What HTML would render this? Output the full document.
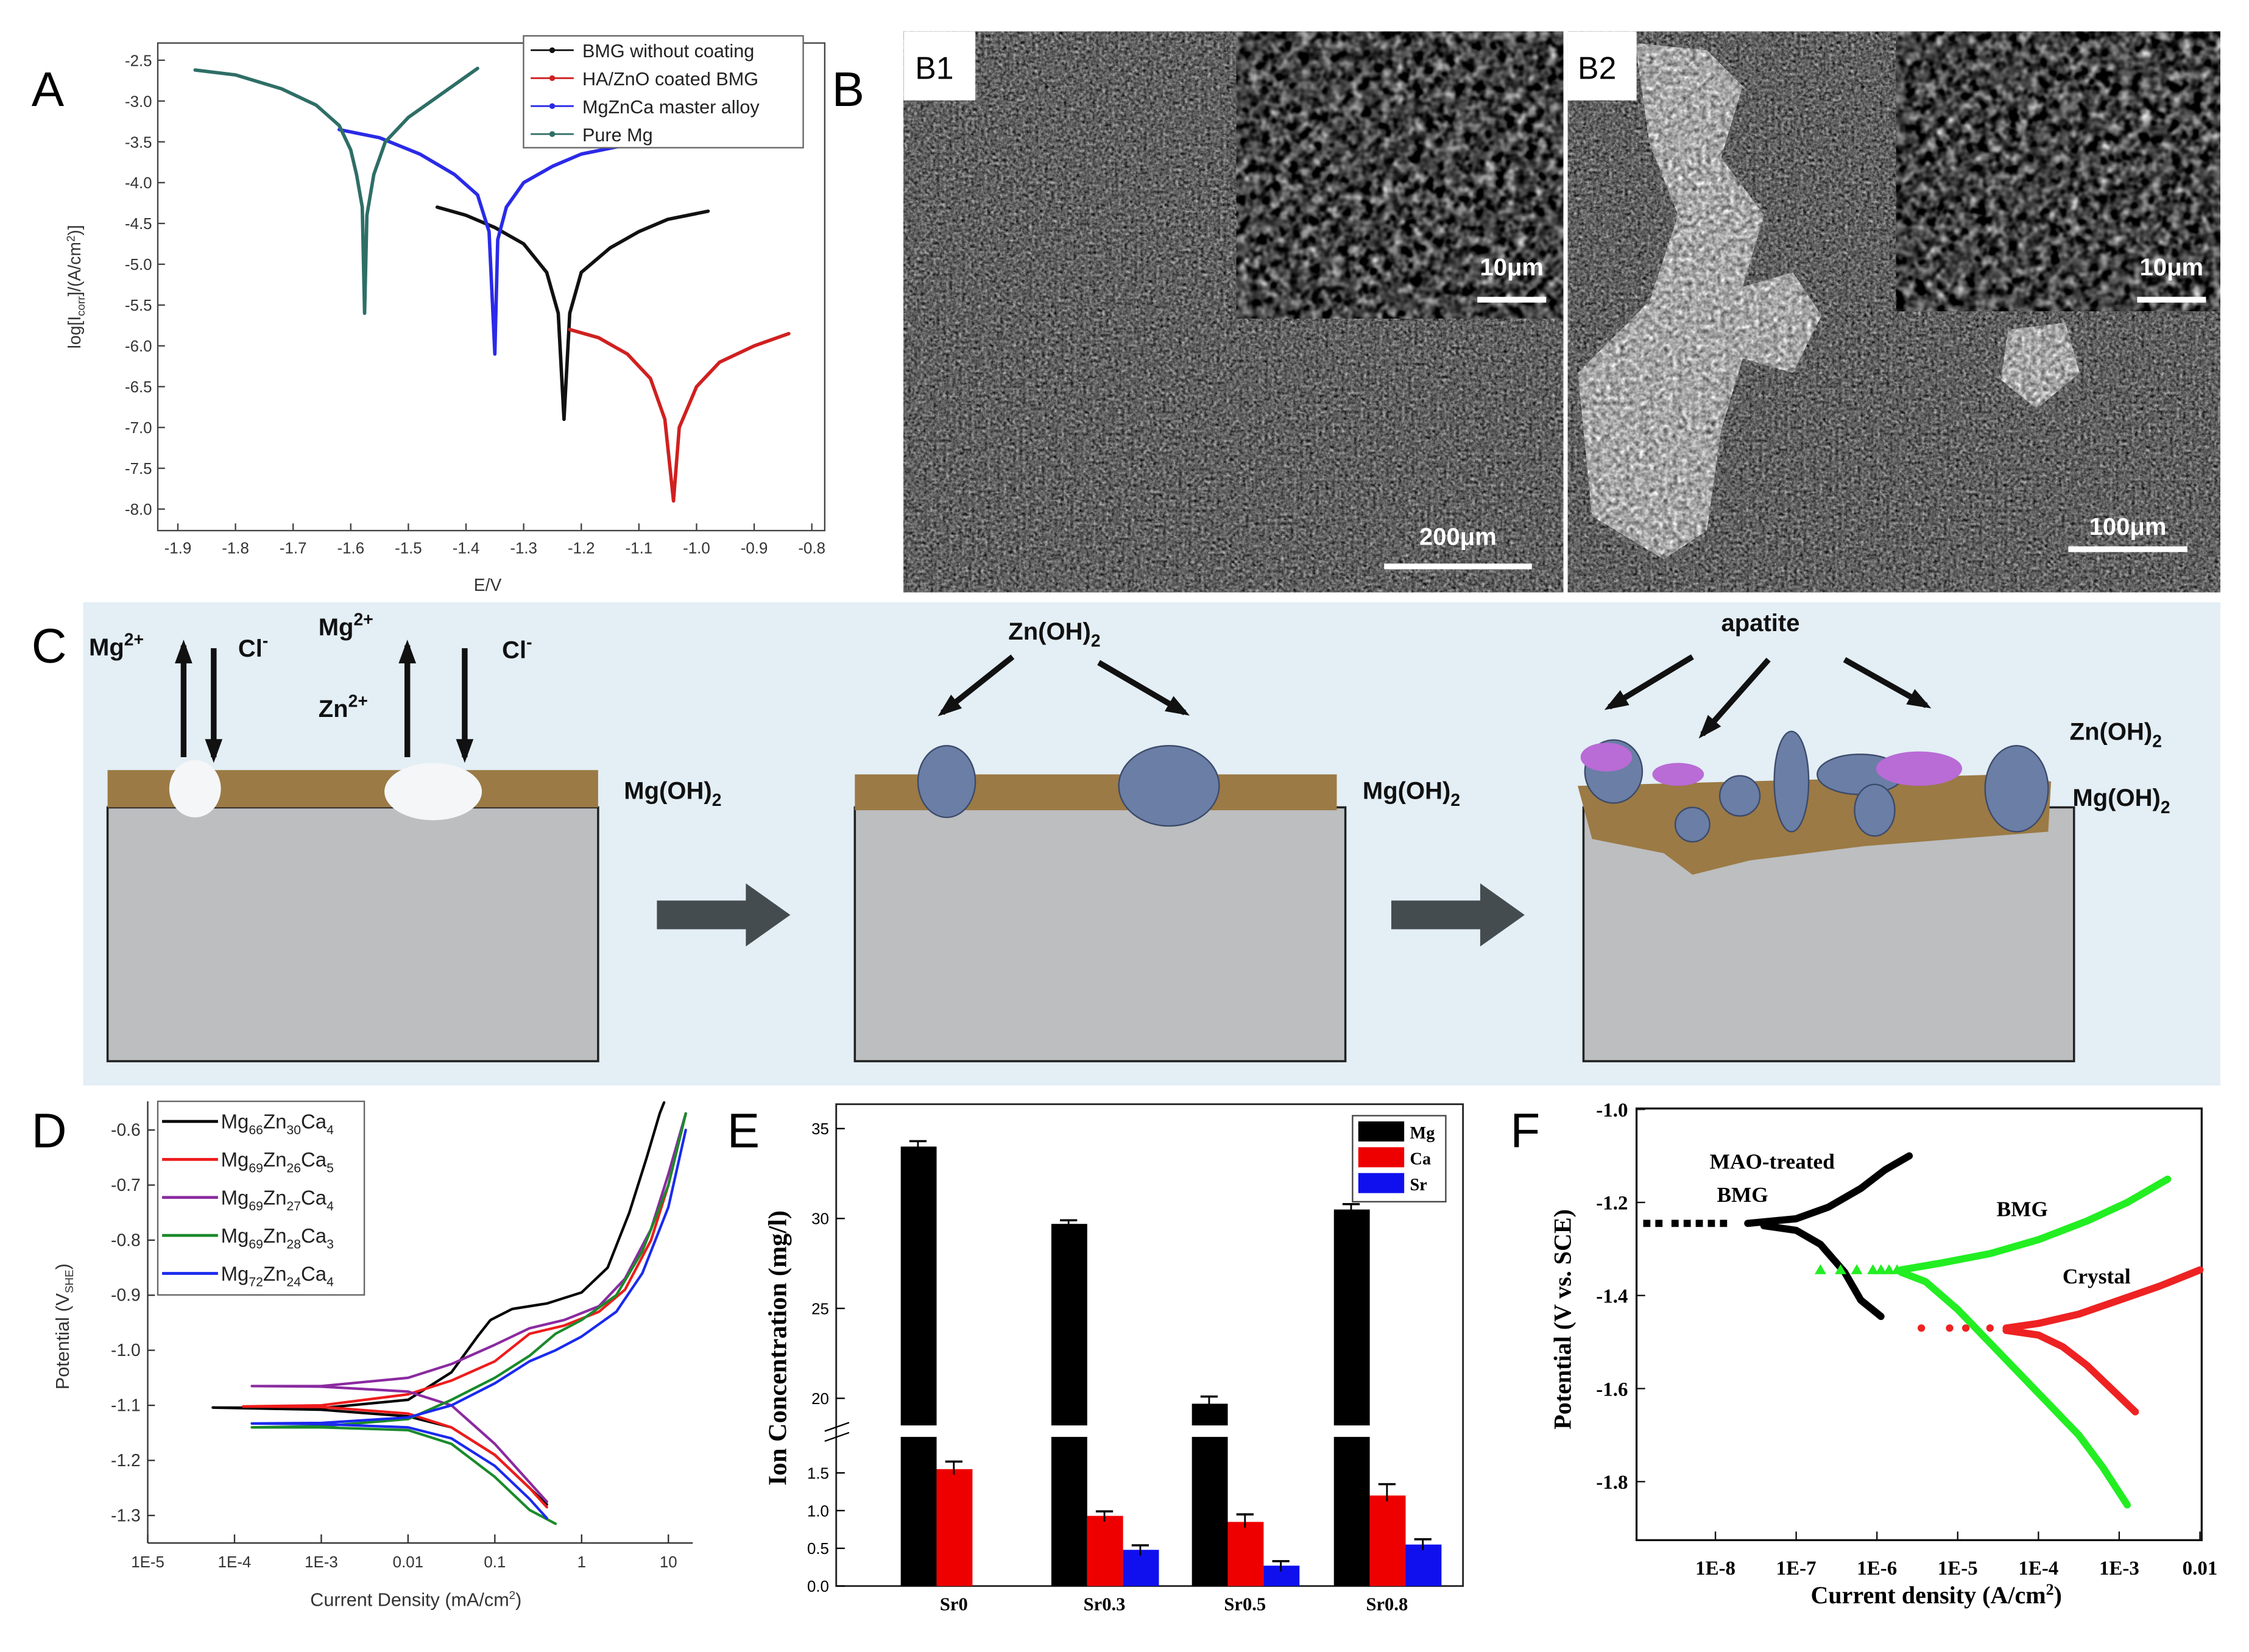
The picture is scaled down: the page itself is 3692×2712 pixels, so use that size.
<!DOCTYPE html>
<html><head><meta charset="utf-8"><style>
html,body{margin:0;padding:0;background:#fff}
svg{display:block}
text{font-family:"Liberation Sans",sans-serif}
.serif{font-family:"Liberation Serif",serif;font-weight:bold}
filter{color-interpolation-filters:sRGB}
</style></head><body>
<svg id="s" width="3692" height="2712" viewBox="0 0 1568 1152" preserveAspectRatio="none" xmlns="http://www.w3.org/2000/svg">
<defs>
<filter id="sem" x="0" y="0" width="100%" height="100%" color-interpolation-filters="sRGB">
<feTurbulence type="fractalNoise" baseFrequency="0.45" numOctaves="3" seed="3"/>
<feColorMatrix type="matrix" values="0.45 0.45 0.45 0 -0.3 0.45 0.45 0.45 0 -0.3 0.45 0.45 0.45 0 -0.3 0 0 0 0 1"/>
</filter>
<filter id="sem2" x="0" y="0" width="100%" height="100%" color-interpolation-filters="sRGB">
<feTurbulence type="fractalNoise" baseFrequency="0.14" numOctaves="2" seed="7"/>
<feColorMatrix type="matrix" values="0.8 0.8 0.8 0 -0.95 0.8 0.8 0.8 0 -0.95 0.8 0.8 0.8 0 -0.95 0 0 0 0 1"/>
</filter>
<filter id="dep" x="0" y="0" width="100%" height="100%" color-interpolation-filters="sRGB">
<feTurbulence type="fractalNoise" baseFrequency="0.3" numOctaves="2" seed="11"/>
<feColorMatrix type="matrix" values="0.5 0.5 0.5 0 -0.1 0.5 0.5 0.5 0 -0.1 0.5 0.5 0.5 0 -0.1 0 0 0 0 1"/>
<feComposite in2="SourceGraphic" operator="in"/>
</filter>
</defs>
<g id="A"></g>
<g id="B"></g>
<g id="C"></g>
<g id="D"></g>
<g id="E"></g>
<g id="F"></g>
</svg>
<script>
// ---------- data ----------
const aXTicks=[-1.9,-1.8,-1.7,-1.6,-1.5,-1.4,-1.3,-1.2,-1.1,-1.0,-0.9,-0.8];
const aYTicks=[-2.5,-3.0,-3.5,-4.0,-4.5,-5.0,-5.5,-6.0,-6.5,-7.0,-7.5,-8.0];
const aNames=["BMG without coating","HA/ZnO coated BMG","MgZnCa master alloy","Pure Mg"];
const aBMG=[[-1.45,-4.3],[-1.4,-4.4],[-1.35,-4.55],[-1.3,-4.75],[-1.26,-5.1],[-1.24,-5.6],[-1.23,-6.9],[-1.22,-5.6],[-1.2,-5.1],[-1.15,-4.8],[-1.1,-4.6],[-1.05,-4.45],[-0.98,-4.35]];
const aHA=[[-1.22,-5.8],[-1.17,-5.9],[-1.12,-6.1],[-1.08,-6.4],[-1.055,-6.9],[-1.04,-7.9],[-1.03,-7.0],[-1.0,-6.5],[-0.96,-6.2],[-0.9,-6.0],[-0.84,-5.85]];
const aMZC=[[-1.62,-3.35],[-1.55,-3.45],[-1.48,-3.65],[-1.42,-3.9],[-1.38,-4.15],[-1.36,-4.6],[-1.35,-6.1],[-1.345,-4.7],[-1.33,-4.3],[-1.3,-4.0],[-1.25,-3.8],[-1.2,-3.65],[-1.13,-3.55]];
const aPure=[[-1.87,-2.62],[-1.8,-2.68],[-1.72,-2.85],[-1.66,-3.05],[-1.62,-3.3],[-1.6,-3.6],[-1.59,-3.9],[-1.58,-4.3],[-1.576,-5.6],[-1.572,-4.4],[-1.56,-3.9],[-1.54,-3.5],[-1.5,-3.2],[-1.45,-2.95],[-1.4,-2.7],[-1.38,-2.6]];

const dXTicks=["1E-5","1E-4","1E-3","0.01","0.1","1","10"];
const dYTicks=[-0.6,-0.7,-0.8,-0.9,-1.0,-1.1,-1.2,-1.3];
const dNames=[["66","30","4"],["69","26","5"],["69","27","4"],["69","28","3"],["72","24","4"]];
const dBlack=[[-0.4,-1.28],[-0.6,-1.25],[-1,-1.19],[-1.5,-1.14],[-2,-1.12],[-3,-1.108],[-4.25,-1.104],[-3,-1.105],[-2,-1.09],[-1.5,-1.04],[-1.2,-0.975],[-1.05,-0.945],[-0.8,-0.925],[-0.4,-0.915],[0,-0.895],[0.3,-0.85],[0.55,-0.75],[0.75,-0.65],[0.9,-0.57],[0.95,-0.55]];
const dRed=[[-0.4,-1.285],[-0.6,-1.25],[-1,-1.19],[-1.5,-1.14],[-2,-1.115],[-3,-1.103],[-3.9,-1.102],[-3,-1.1],[-2,-1.08],[-1.5,-1.055],[-1,-1.02],[-0.6,-0.97],[-0.2,-0.955],[0.2,-0.93],[0.5,-0.89],[0.8,-0.8],[1.0,-0.7],[1.2,-0.57]];
const dPurple=[[-0.4,-1.275],[-0.6,-1.24],[-1,-1.17],[-1.5,-1.1],[-2,-1.075],[-3,-1.066],[-3.8,-1.065],[-3,-1.065],[-2,-1.05],[-1.5,-1.025],[-1,-0.99],[-0.6,-0.96],[-0.2,-0.945],[0.2,-0.92],[0.5,-0.87],[0.8,-0.78],[1.0,-0.68],[1.2,-0.57]];
const dGreen=[[-0.3,-1.315],[-0.6,-1.29],[-1,-1.23],[-1.5,-1.17],[-2,-1.145],[-3,-1.14],[-3.8,-1.14],[-3,-1.138],[-2,-1.125],[-1.5,-1.09],[-1,-1.05],[-0.6,-1.01],[-0.3,-0.97],[0,-0.945],[0.4,-0.9],[0.7,-0.82],[1.0,-0.7],[1.2,-0.57]];
const dBlue=[[-0.4,-1.305],[-0.6,-1.27],[-1,-1.21],[-1.5,-1.16],[-2,-1.14],[-3,-1.134],[-3.8,-1.133],[-3,-1.132],[-2,-1.122],[-1.5,-1.1],[-1,-1.06],[-0.6,-1.02],[-0.3,-1.0],[0,-0.975],[0.4,-0.93],[0.7,-0.86],[1.0,-0.74],[1.2,-0.6]];

const eCats=["Sr0","Sr0.3","Sr0.5","Sr0.8"];
const eMg=[34.0,29.7,19.7,30.5];
const eCa=[1.55,0.93,0.85,1.2];
const eSr=[0,0.48,0.27,0.55];
const eMgErr=[0.3,0.2,0.4,0.3];
const eCaErr=[0.1,0.06,0.1,0.15];
const eSrErr=[0,0.06,0.06,0.07];
const eUpperTicks=[20,25,30,35];
const eLowerTicks=[0.0,0.5,1.0,1.5];

const fXTicks=["1E-8","1E-7","1E-6","1E-5","1E-4","1E-3","0.01"];
const fYTicks=[-1.0,-1.2,-1.4,-1.6,-1.8];
const fMAOa=[[-7.6,-1.245],[-7.0,-1.235],[-6.6,-1.21],[-6.2,-1.17],[-5.9,-1.13],[-5.6,-1.1]];
const fMAOc=[[-7.4,-1.25],[-7.0,-1.26],[-6.7,-1.29],[-6.4,-1.35],[-6.2,-1.41],[-5.95,-1.445]];
const fMAOdots=[-8.85,-8.7,-8.5,-8.35,-8.2,-8.05,-7.9];
const fBMGa=[[-5.7,-1.345],[-5.2,-1.33],[-4.6,-1.31],[-4,-1.28],[-3.4,-1.24],[-2.9,-1.2],[-2.4,-1.15]];
const fBMGc=[[-5.7,-1.35],[-5.4,-1.37],[-5,-1.43],[-4.5,-1.52],[-4,-1.61],[-3.5,-1.7],[-3.2,-1.77],[-2.9,-1.85]];
const fBMGtri=[-6.7,-6.45,-6.25,-6.05,-5.95,-5.85,-5.75];
const fCRa=[[-4.4,-1.47],[-4,-1.46],[-3.5,-1.44],[-3,-1.41],[-2.5,-1.38],[-2,-1.345]];
const fCRc=[[-4.4,-1.475],[-4,-1.485],[-3.7,-1.51],[-3.4,-1.55],[-3.1,-1.6],[-2.8,-1.65]];
const fCRdots=[-5.45,-5.1,-4.9,-4.6];

// ---------- helpers ----------
const NS="http://www.w3.org/2000/svg";
function mk(p,tag,at,txt){const e=document.createElementNS(NS,tag);for(const k in at)e.setAttribute(k,at[k]);if(txt!==undefined)e.textContent=txt;p.appendChild(e);return e;}
function poly(p,pts,fx,fy,col,w,name){const e=mk(p,'polyline',{points:pts.map(q=>fx(q[0]).toFixed(2)+','+fy(q[1]).toFixed(2)).join(' '),fill:'none',stroke:col,'stroke-width':w,'stroke-linejoin':'round','stroke-linecap':'round'});


return e;}

// ---------- Panel A ----------
(function(){
const g=document.getElementById('A');
const X=v=>124+(v+1.9)/1.1*442, Y=v=>42+(-2.5-v)/5.5*313;
mk(g,'text',{x:22,y:74,'font-size':34},'A');
const b=mk(g,'rect',{x:110,y:30,width:465,height:340,fill:'none',stroke:'#444','stroke-width':1});

aXTicks.forEach(v=>{mk(g,'line',{x1:X(v),x2:X(v),y1:370,y2:365,stroke:'#444'});const t=mk(g,'text',{x:X(v),y:386,'font-size':11,'text-anchor':'middle',fill:'#333'},v.toFixed(1));
});
aYTicks.forEach(v=>{mk(g,'line',{x1:110,x2:115,y1:Y(v),y2:Y(v),stroke:'#444'});const t=mk(g,'text',{x:106,y:Y(v)+4,'font-size':11,'text-anchor':'end',fill:'#333'},v.toFixed(1));
});
mk(g,'text',{x:340,y:412,'font-size':12,'text-anchor':'middle',fill:'#333'},'E/V');
const yt=mk(g,'text',{transform:'translate(56,200) rotate(-90)','font-size':12,'text-anchor':'middle',fill:'#333'},'log[I');
mk(yt,'tspan',{'font-size':8,dy:3},'corr');mk(yt,'tspan',{dy:-3},']/(A/cm');mk(yt,'tspan',{'font-size':8,dy:-4},'2');mk(yt,'tspan',{dy:4},')]');
const cols=['#111','#d02020','#2a2ae8','#2e6e66'];
[aBMG,aHA,aMZC,aPure].forEach((d,i)=>{poly(g,d,X,Y,cols[i],2.4,'series-'+['bmg','ha-zno','mgznca','pure-mg'][i]);});
const lg=mk(g,'g',{});
mk(lg,'rect',{x:365,y:25,width:195,height:78,fill:'#fff',stroke:'#666'});
aNames.forEach((n,i)=>{const y=35+i*19.5;mk(lg,'line',{x1:370,x2:400,y1:y,y2:y,stroke:cols[i],'stroke-width':1.2});mk(lg,'circle',{cx:385,cy:y,r:2,fill:cols[i]});
const t=mk(lg,'text',{x:406,y:y+5,'font-size':13,fill:'#222'},n);});
})();

// ---------- Panel B ----------
(function(){
const g=document.getElementById('B');
mk(g,'text',{x:580,y:74,'font-size':34},'B');
function sem(x,y,w,h,f,name){const r=mk(g,'rect',{x,y,width:w,height:h,fill:'#777',filter:'url(#'+f+')'});}
sem(630,22,460,391,'sem','sem-image-b1');
sem(862,22,228,200,'sem2','sem-inset-b1');
sem(1093,22,455,391,'sem','sem-image-b2');
const dp=mk(g,'path',{d:'M1140 30 L1190 35 L1215 60 L1200 110 L1230 150 L1215 200 L1250 190 L1270 220 L1250 260 L1215 250 L1200 300 L1190 370 L1160 390 L1110 360 L1100 260 L1150 210 L1170 150 L1150 100 Z',fill:'#fff',filter:'url(#dep)'});

sem(1322,22,226,195,'sem2','sem-inset-b2');
mk(g,'path',{d:'M1400 230 L1440 225 L1450 260 L1420 285 L1395 265 Z',fill:'#fff',filter:'url(#dep)'});
mk(g,'line',{x1:1091.5,x2:1091.5,y1:22,y2:413,stroke:'#fff','stroke-width':3});
mk(g,'rect',{x:630,y:22,width:50,height:48,fill:'#fff'});
mk(g,'text',{x:638,y:55,'font-size':22},'B1');
mk(g,'rect',{x:1093,y:22,width:48,height:48,fill:'#fff'});
mk(g,'text',{x:1100,y:55,'font-size':22},'B2');
[[1030,192,1078,207,'10μm'],[1490,192,1538,207,'10μm'],[965,380,1068,393,'200μm'],[1442,373,1525,381,'100μm']].forEach(s=>{
const t=mk(g,'text',{x:(s[0]+s[2])/2,y:s[1],'font-size':17,'font-weight':'bold',fill:'#fff','text-anchor':'middle'},s[4]);
mk(g,'rect',{x:s[0],y:s[3],width:s[2]-s[0],height:4,fill:'#fff'});});
})();

// ---------- Panel C ----------
(function(){
const g=document.getElementById('C');
const bg=mk(g,'rect',{x:58,y:420,width:1490,height:337,fill:'#e3eef5'});
mk(g,'text',{x:22,y:462,'font-size':34},'C');
function block(x,name){const r=mk(g,'rect',{x,y:563,width:342,height:177,fill:'#bcbec0',stroke:'#222','stroke-width':1.5});}
block(75,'substrate-1');block(596,'substrate-2');block(1104,'substrate-3');
mk(g,'rect',{x:75,y:537,width:342,height:26,fill:'#9b7a45'});
mk(g,'rect',{x:596,y:540,width:336,height:25,fill:'#9b7a45'});
mk(g,'path',{d:'M1100 548 L1400 540 L1430 545 L1428 580 L1300 590 L1220 600 L1180 610 L1160 595 L1110 585 Z',fill:'#9b7a45'});
mk(g,'ellipse',{cx:136,cy:550,rx:18,ry:20,fill:'#f4f6f8'});
mk(g,'ellipse',{cx:302,cy:552,rx:34,ry:20,fill:'#f4f6f8'});
const cr=[[660,545,20,25],[815,548,35,28],[1125,538,20,22],[1213,555,14,14],[1249,545,12,35],[1297,540,30,14],[1307,565,14,18],[1180,575,12,12],[1406,550,22,30]];
cr.forEach(c=>{const e=mk(g,'ellipse',{cx:c[0],cy:c[1],rx:c[2],ry:c[3],fill:'#6a7ea6',stroke:'#3c4a6a','stroke-width':1});});
[[1120,528,18,10],[1170,540,18,8],[1338,536,30,12]].forEach(c=>mk(g,'ellipse',{cx:c[0],cy:c[1],rx:c[2],ry:c[3],fill:'#b96bd6'}));
function arr(x1,y1,x2,y2){mk(g,'line',{x1,y1,x2,y2,stroke:'#111','stroke-width':4});const a=Math.atan2(y2-y1,x2-x1),L=14;
mk(g,'polygon',{points:`${x2+Math.cos(a)*4},${y2+Math.sin(a)*4} ${x2-L*Math.cos(a-0.45)},${y2-L*Math.sin(a-0.45)} ${x2-L*Math.cos(a+0.45)},${y2-L*Math.sin(a+0.45)}`,fill:'#111'});}
arr(128,528,128,450);arr(149,452,149,528);arr(284,528,284,450);arr(324,452,324,528);
arr(706,458,657,497);arr(766,462,826,497);
arr(1180,458,1122,493);arr(1233,460,1187,512);arr(1286,460,1343,492);
[[458,638],[970,638]].forEach(p=>{const a=mk(g,'polygon',{points:`${p[0]},${p[1]-10} ${p[0]+62},${p[1]-10} ${p[0]+62},${p[1]-22} ${p[0]+93},${p[1]} ${p[0]+62},${p[1]+22} ${p[0]+62},${p[1]+10} ${p[0]},${p[1]+10}`,fill:'#454c50'});});
function lab(x,y,t,sub,sup){const e=mk(g,'text',{x,y,'font-size':17,'font-weight':'bold',fill:'#111'},t);if(sub)mk(e,'tspan',{'font-size':12,dy:5},sub);if(sup)mk(e,'tspan',{'font-size':12,dy:-7},sup);}
lab(62,457,'Mg',null,'2+');lab(166,458,'Cl',null,'-');lab(222,443,'Mg',null,'2+');lab(222,500,'Zn',null,'2+');lab(350,459,'Cl',null,'-');
lab(435,557,'Mg(OH)',"2");lab(703,446,'Zn(OH)',"2");lab(950,557,'Mg(OH)',"2");lab(1200,440,'apatite');lab(1443,516,'Zn(OH)',"2");lab(1445,562,'Mg(OH)',"2");
})();

// ---------- Panel D ----------
(function(){
const g=document.getElementById('D');
const X=v=>103+(v+5)*60.5, Y=v=>788+(-0.6-v)/0.1*38.4;
mk(g,'text',{x:22,y:800,'font-size':34},'D');
mk(g,'line',{x1:103,x2:103,y1:768,y2:1076,stroke:'#333'});mk(g,'line',{x1:103,x2:483,y1:1076,y2:1076,stroke:'#333'});
dXTicks.forEach((l,i)=>{const x=X(i-5);mk(g,'line',{x1:x,x2:x,y1:1076,y2:1070,stroke:'#333'});const t=mk(g,'text',{x,y:1093,'font-size':11,'text-anchor':'middle',fill:'#333'},l);});
dYTicks.forEach(v=>{mk(g,'line',{x1:103,x2:108,y1:Y(v),y2:Y(v),stroke:'#333'});const t=mk(g,'text',{x:98,y:Y(v)+4,'font-size':12,'text-anchor':'end',fill:'#333'},v.toFixed(1));});
const xt=mk(g,'text',{x:290,y:1120,'font-size':13,'text-anchor':'middle',fill:'#333'},'Current Density (mA/cm');mk(xt,'tspan',{'font-size':8,dy:-5},'2');mk(xt,'tspan',{dy:5},')');
const yt=mk(g,'text',{transform:'translate(48,925) rotate(-90)','font-size':13,'text-anchor':'middle',fill:'#333'},'Potential (V');mk(yt,'tspan',{'font-size':8,dy:3},'SHE');mk(yt,'tspan',{dy:-3},')');
const cols=['#000','#ee1c1c','#8a2aa0','#1a8a2a','#1a2aee'];
[dBlack,dRed,dPurple,dGreen,dBlue].forEach((d,i)=>poly(g,d,X,Y,cols[i],1.8,'series-d-'+i));
const lg=mk(g,'g',{});
mk(lg,'rect',{x:110,y:768,width:144,height:135,fill:'#fff',stroke:'#666'});
dNames.forEach((n,i)=>{const y=782+i*26.5;mk(lg,'line',{x1:113,x2:152,y1:y,y2:y,stroke:cols[i],'stroke-width':2});
const t=mk(lg,'text',{x:154,y:y+5,'font-size':14,fill:'#222'},'Mg');mk(t,'tspan',{'font-size':9,dy:4},n[0]);mk(t,'tspan',{dy:-4},'Zn');mk(t,'tspan',{'font-size':9,dy:4},n[1]);mk(t,'tspan',{dy:-4},'Ca');mk(t,'tspan',{'font-size':9,dy:4},n[2]);
});
})();

// ---------- Panel E ----------
(function(){
const g=document.getElementById('E');
const YU=v=>787+(35-v)/5*62.7, YL=v=>1106-v/0.5*26.3;
mk(g,'text',{x:507,y:800,'font-size':34},'E');
mk(g,'rect',{x:583,y:770,width:437,height:336,fill:'none',stroke:'#222','stroke-width':1.2});
const cx=[665,770,868,967];
const cols=['#000','#ee0000','#1010ee'];
const vals=[eMg,eCa,eSr], errs=[eMgErr,eCaErr,eSrErr];
eCats.forEach((c,i)=>{
 vals.forEach((arr,k)=>{const v=arr[i];if(v<=0)return;const x=cx[i]-25+k*25;
 const top=k===0?YU(v):YL(v);
 const r=mk(g,'rect',{x:x-12,y:top,width:25,height:1106-top,fill:cols[k]});
 
 
 const e=errs[k][i], ty=k===0?YU(v+e):YL(v+e);
 mk(g,'line',{x1:x,x2:x,y1:ty,y2:top+4,stroke:'#000','stroke-width':1.2});mk(g,'line',{x1:x-6,x2:x+6,y1:ty,y2:ty,stroke:'#000','stroke-width':1.5});
 });
 const t=mk(g,'text',{x:cx[i],y:1123,'font-size':13,'text-anchor':'middle'},c);t.setAttribute('class','serif');
});
mk(g,'rect',{x:584,y:994,width:435,height:8,fill:'#fff'});
mk(g,'line',{x1:575,x2:592,y1:998,y2:992,stroke:'#000'});mk(g,'line',{x1:575,x2:592,y1:1005,y2:999,stroke:'#000'});
eUpperTicks.forEach(v=>{mk(g,'line',{x1:583,x2:589,y1:YU(v),y2:YU(v),stroke:'#000'});const t=mk(g,'text',{x:578,y:YU(v)+4,'font-size':11,'text-anchor':'end'},v);});
eLowerTicks.forEach(v=>{mk(g,'line',{x1:583,x2:589,y1:YL(v),y2:YL(v),stroke:'#000'});const t=mk(g,'text',{x:578,y:YL(v)+4,'font-size':11,'text-anchor':'end'},v.toFixed(1));});
const yt=mk(g,'text',{transform:'translate(548,940) rotate(-90)','font-size':18,'text-anchor':'middle'},'Ion Concentration (mg/l)');yt.setAttribute('class','serif');
const lg=mk(g,'g',{});
mk(lg,'rect',{x:943,y:778,width:65,height:60,fill:'#fff',stroke:'#444'});
['Mg','Ca','Sr'].forEach((n,i)=>{mk(lg,'rect',{x:947,y:782+i*18,width:32,height:14,fill:cols[i]});const t=mk(lg,'text',{x:983,y:794+i*18,'font-size':12},n);t.setAttribute('class','serif');});
})();

// ---------- Panel F ----------
(function(){
const g=document.getElementById('F');
const X=v=>1196+(v+8)*56.3, Y=v=>773.6+(-1.0-v)/0.2*64.9;
mk(g,'text',{x:1053,y:800,'font-size':34},'F');
mk(g,'rect',{x:1141,y:773,width:394,height:301,fill:'none',stroke:'#111','stroke-width':1.4});
fXTicks.forEach((l,i)=>{const x=X(i-8);mk(g,'line',{x1:x,x2:x,y1:1074,y2:1068,stroke:'#111'});const t=mk(g,'text',{x,y:1098,'font-size':14,'text-anchor':'middle'},l);t.setAttribute('class','serif');});
fYTicks.forEach(v=>{mk(g,'line',{x1:1141,x2:1147,y1:Y(v),y2:Y(v),stroke:'#111'});const t=mk(g,'text',{x:1135,y:Y(v)+5,'font-size':14,'text-anchor':'end'},v.toFixed(1));t.setAttribute('class','serif');});
const xt=mk(g,'text',{x:1350,y:1118,'font-size':17,'text-anchor':'middle'},'Current density (A/cm');mk(xt,'tspan',{'font-size':11,dy:-6},'2');mk(xt,'tspan',{dy:6},')');xt.setAttribute('class','serif');
const yt=mk(g,'text',{transform:'translate(1095,920) rotate(-90)','font-size':17,'text-anchor':'middle'},'Potential (V vs. SCE)');yt.setAttribute('class','serif');
poly(g,fMAOa,X,Y,'#000',5,'series-mao-anodic');poly(g,fMAOc,X,Y,'#000',5,'series-mao-cathodic');
fMAOdots.forEach(v=>mk(g,'rect',{x:X(v)-2.5,y:Y(-1.245)-2.5,width:5,height:5,fill:'#000'}));
poly(g,fBMGa,X,Y,'#22ee22',5,'series-bmg-anodic');poly(g,fBMGc,X,Y,'#22ee22',5,'series-bmg-cathodic');
fBMGtri.forEach(v=>{const x=X(v),y=Y(-1.345);mk(g,'polygon',{points:`${x},${y-4} ${x-4},${y+3} ${x+4},${y+3}`,fill:'#22ee22'});});
poly(g,fCRa,X,Y,'#ee2222',5,'series-crystal-anodic');poly(g,fCRc,X,Y,'#ee2222',5,'series-crystal-cathodic');
fCRdots.forEach(v=>mk(g,'circle',{cx:X(v),cy:Y(-1.47),r:2.6,fill:'#ee2222'}));
[[1192,815,'MAO-treated'],[1197,838,'BMG'],[1392,848,'BMG'],[1438,895,'Crystal']].forEach(l=>{const t=mk(g,'text',{x:l[0],y:l[1],'font-size':15},l[2]);t.setAttribute('class','serif');});
})();
</script>
</body></html>
